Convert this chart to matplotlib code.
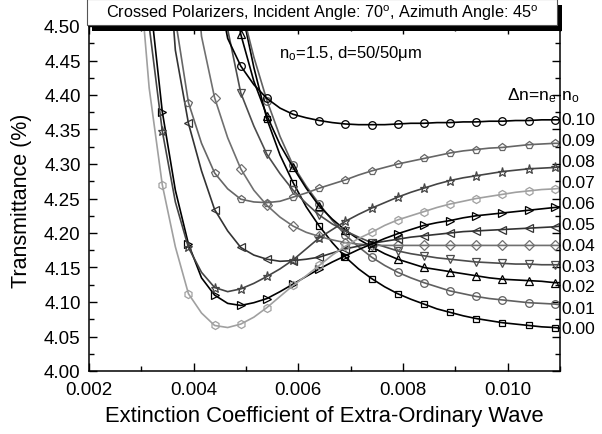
import matplotlib
matplotlib.use("Agg")
import matplotlib.pyplot as plt
from matplotlib.patches import Rectangle
from matplotlib.ticker import MultipleLocator, FormatStrFormatter
import matplotlib.transforms as mtransforms

plt.rcParams['font.family'] = ['Liberation Sans', 'DejaVu Sans']
plt.rcParams['mathtext.default'] = 'regular'

# x grid of the extinction coefficient
x = [0.0029, 0.00315, 0.0034, 0.00365, 0.0039, 0.00415, 0.0044, 0.00465, 0.0049, 0.00515,
     0.0054, 0.00565, 0.0059, 0.00615, 0.0064, 0.00665, 0.0069, 0.00715, 0.0074, 0.00765,
     0.0079, 0.00815, 0.0084, 0.00865, 0.0089, 0.00915, 0.0094, 0.00965, 0.0099, 0.01015,
     0.0104, 0.01065, 0.0109, 0.011]

dn_labels = ["0.00", "0.01", "0.02", "0.03", "0.04", "0.05", "0.06", "0.07", "0.08", "0.09", "0.10"]

t000 = [5.8, 5.5, 5.2, 5.0, 4.9, 4.8, 4.72, 4.65, 4.53, 4.44, 4.365, 4.313, 4.273, 4.238, 4.210,
        4.186, 4.165, 4.148, 4.134, 4.122, 4.112, 4.104, 4.097, 4.090, 4.085, 4.080, 4.076, 4.073,
        4.070, 4.068, 4.066, 4.064, 4.063, 4.062]
t001 = [5.8, 5.5, 5.2, 5.0, 4.9, 4.8, 4.7, 4.62, 4.53, 4.455, 4.392, 4.340, 4.298, 4.268, 4.242,
        4.218, 4.197, 4.180, 4.165, 4.153, 4.143, 4.135, 4.128, 4.122, 4.116, 4.112, 4.108, 4.105,
        4.103, 4.101, 4.099, 4.098, 4.097, 4.096]
t002 = [5.8, 5.5, 5.2, 5.0, 4.85, 4.75, 4.68, 4.60, 4.488, 4.42, 4.370, 4.328, 4.295, 4.265, 4.239,
        4.220, 4.204, 4.191, 4.180, 4.170, 4.162, 4.156, 4.150, 4.147, 4.144, 4.141, 4.138, 4.135,
        4.133, 4.132, 4.131, 4.130, 4.128, 4.128]
t003 = [5.6, 5.3, 5.0, 4.85, 4.75, 4.65, 4.58, 4.495, 4.403, 4.355, 4.314, 4.286, 4.262, 4.243, 4.226,
        4.213, 4.203, 4.194, 4.186, 4.180, 4.174, 4.170, 4.167, 4.164, 4.162, 4.160, 4.158, 4.157,
        4.156, 4.155, 4.155, 4.154, 4.154, 4.154]
t004 = [5.5, 5.2, 4.95, 4.80, 4.70, 4.485, 4.396, 4.338, 4.293, 4.262, 4.240, 4.223, 4.210, 4.201, 4.195,
        4.190, 4.186, 4.184, 4.182, 4.182, 4.182, 4.182, 4.182, 4.182, 4.182, 4.182, 4.182, 4.182,
        4.182, 4.182, 4.182, 4.182, 4.182, 4.182]
t005 = [5.4, 5.0, 4.72, 4.465, 4.359, 4.29, 4.234, 4.203, 4.179, 4.168, 4.162, 4.159, 4.160, 4.162, 4.165,
        4.171, 4.177, 4.181, 4.185, 4.188, 4.191, 4.194, 4.196, 4.198, 4.200, 4.202, 4.203, 4.204,
        4.205, 4.206, 4.207, 4.208, 4.209, 4.210]
t006 = [5.0, 4.55, 4.376, 4.262, 4.184, 4.135, 4.110, 4.098, 4.095, 4.099, 4.105, 4.115, 4.126, 4.137, 4.148,
        4.158, 4.167, 4.176, 4.184, 4.192, 4.199, 4.205, 4.211, 4.215, 4.218, 4.222, 4.225, 4.227,
        4.229, 4.231, 4.233, 4.235, 4.237, 4.238]
t007 = [4.635, 4.41, 4.270, 4.180, 4.112, 4.084, 4.066, 4.063, 4.068, 4.078, 4.092, 4.108, 4.124, 4.138, 4.153,
        4.168, 4.181, 4.192, 4.201, 4.211, 4.219, 4.225, 4.231, 4.237, 4.242, 4.246, 4.250, 4.253,
        4.256, 4.259, 4.261, 4.263, 4.264, 4.265]
t008 = [4.8, 4.50, 4.348, 4.245, 4.179, 4.143, 4.121, 4.115, 4.119, 4.127, 4.137, 4.148, 4.161, 4.177, 4.193,
        4.205, 4.217, 4.227, 4.236, 4.244, 4.252, 4.259, 4.265, 4.271, 4.276, 4.280, 4.283, 4.286,
        4.289, 4.291, 4.293, 4.294, 4.295, 4.296]
t009 = [5.3, 5.0, 4.8, 4.51, 4.389, 4.33, 4.287, 4.264, 4.249, 4.245, 4.244, 4.246, 4.252, 4.258, 4.265,
        4.271, 4.277, 4.284, 4.290, 4.295, 4.300, 4.304, 4.308, 4.312, 4.316, 4.319, 4.321, 4.323,
        4.324, 4.326, 4.328, 4.329, 4.330, 4.330]
t010 = [5.2, 5.0, 4.85, 4.75, 4.68, 4.62, 4.58, 4.482, 4.442, 4.415, 4.395, 4.381, 4.372, 4.367, 4.363,
        4.360, 4.358, 4.357, 4.357, 4.357, 4.358, 4.359, 4.359, 4.360, 4.360, 4.361, 4.361, 4.362,
        4.362, 4.363, 4.363, 4.364, 4.364, 4.364]

series = [t000, t001, t002, t003, t004, t005, t006, t007, t008, t009, t010]
markers = ['s', 'o', '^', 'v', 'D', '<', '>', 'h', '*', 'p', 'o']
colors = ['#000000', '#606060', '#000000', '#4c4c4c', '#707070', '#333333',
          '#000000', '#a0a0a0', '#444444', '#666666', '#000000']
msizes = [5.0, 5.5, 5.5, 5.5, 4.6, 5.5, 5.5, 5.8, 6.5, 5.8, 5.5]

label_y = [4.061, 4.091, 4.122, 4.152, 4.182, 4.213, 4.243, 4.273, 4.303, 4.334, 4.364]

W, H = 602.0, 435.0
fig = plt.figure(figsize=(6.02, 4.35), dpi=100)
ax = fig.add_axes([89/W, 1-372/H, 471/W, 345/H])

mark_idx = list(range(2, 33, 2))
for ys, m, c, ms in zip(series, markers, colors, msizes):
    ax.plot(x, ys, color=c, lw=1.2, marker=m, markevery=mark_idx, ms=ms,
            mfc='none', mec=c, mew=0.9)

ax.set_xlim(0.002, 0.011)
ax.set_ylim(4.0, 4.5)
ax.xaxis.set_major_locator(MultipleLocator(0.002))
ax.xaxis.set_minor_locator(MultipleLocator(0.001))
ax.yaxis.set_major_locator(MultipleLocator(0.05))
ax.yaxis.set_minor_locator(MultipleLocator(0.025))
ax.xaxis.set_major_formatter(FormatStrFormatter('%.3f'))
ax.yaxis.set_major_formatter(FormatStrFormatter('%.2f'))
ax.tick_params(which='both', direction='in', top=True, right=True, labelsize=13.5, width=1.0)
ax.tick_params(which='major', length=6)
ax.tick_params(which='minor', length=3.5)
ax.tick_params(axis='x', which='major', pad=7)
ax.tick_params(axis='y', which='major', pad=6)
for s in ax.spines.values():
    s.set_linewidth(1.1)

fig.text((89+560)/2/W, 1-417/H, 'Extinction Coefficient of Extra-Ordinary Wave',
         fontsize=15.8, ha='center', va='center')
fig.text(22/W, 1-201/H, 'Transmittance (%)', fontsize=15.5, ha='center', va='center',
         rotation=90)

# right-side labels
trans = mtransforms.blended_transform_factory(ax.transAxes, ax.transData)
for lab, yv in zip(dn_labels, label_y):
    ax.text(1.002, yv, lab, transform=trans, ha='left', va='center', fontsize=12.5)
ax.text(0.887, 4.40, r'$\Delta$n=n$_{e}$-n$_{o}$', transform=trans, ha='left',
        va='center', fontsize=12.5)

ax.text(0.403, 4.462, r'n$_{o}$=1.5, d=50/50μm', transform=trans, ha='left',
        va='center', fontsize=12)

# title box with shadow
shadow = Rectangle((92/W, 1-32/H), 470/W, 26/H, transform=fig.transFigure,
                   facecolor='black', edgecolor='none', zorder=10)
box = Rectangle((87/W, 1-26/H), 470/W, 26/H, transform=fig.transFigure,
                facecolor='white', edgecolor='#555555', lw=0.8, zorder=11)
fig.add_artist(shadow)
fig.add_artist(box)
fig.text((87+235)/W, 1-13.5/H,
         r'Crossed Polarizers, Incident Angle: 70$^{o}$, Azimuth Angle: 45$^{o}$',
         ha='center', va='center', fontsize=11.7, zorder=12)

fig.savefig('out.png', dpi=100)
